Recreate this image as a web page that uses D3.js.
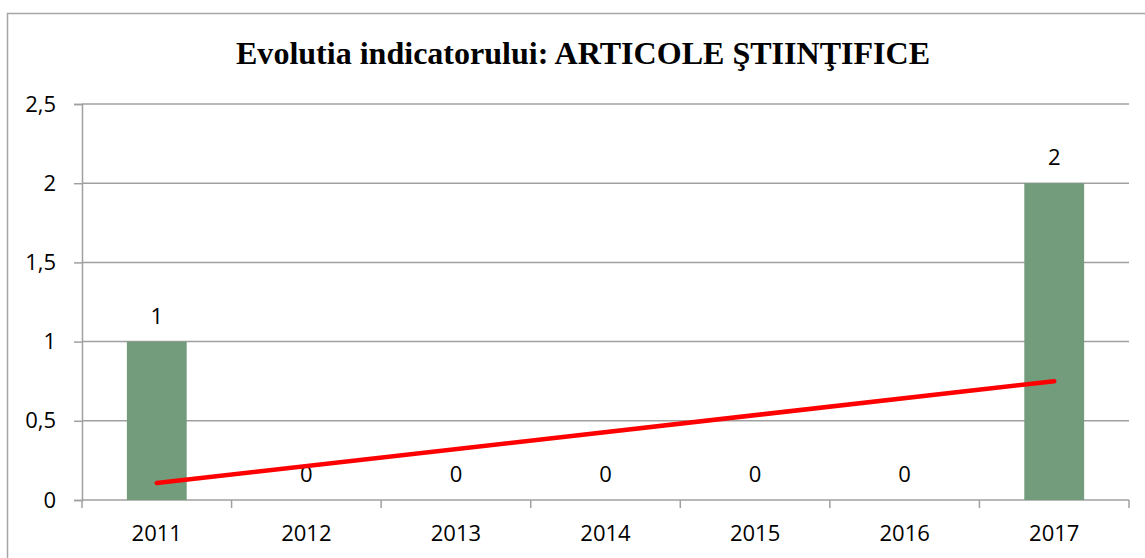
<!DOCTYPE html>
<html>
<head>
<meta charset="utf-8">
<script src="https://cdn.jsdelivr.net/npm/d3@7"></script>
<style>
  body { margin: 0; background: #fff; }
  svg { display: block; }
</style>
</head>
<body>
<div id="chart"></div>
<script>
//Chart data
const years = ["2011", "2012", "2013", "2014", "2015", "2016", "2017"];
const articles = [1, 0, 0, 0, 0, 0, 2];
//Linear trendline end points
const trendYears = ["2011", "2017"];
const trendValues = [0.107, 0.75];
const yTicks = [0, 0.5, 1, 1.5, 2, 2.5];

const title = "Evolutia indicatorului: ARTICOLE ŞTIINŢIFICE";

//Canvas size
const w = 1145;
const h = 558;

//Plot area
const margin = { left: 82, right: 16, top: 104, bottom: 58 };

const svg = d3.select("#chart")
    .append("svg")
    .attr("width", w)
    .attr("height", h);

//Outer chart border
svg.append("rect")
    .attr("x", 7.5)
    .attr("y", 13.5)
    .attr("width", w)
    .attr("height", h)
    .attr("fill", "white")
    .attr("stroke", "#a6a6a6")
    .attr("stroke-width", 1.5);

//Scales
const x = d3.scaleBand()
    .domain(years)
    .range([margin.left, w - margin.right]);

const y = d3.scaleLinear()
    .domain([0, 2.5])
    .range([h - margin.bottom, margin.top]);

const fmt = d => String(d).replace(".", ",");

//Horizontal gridlines + y axis
const yAxis = svg.append("g")
    .attr("transform", `translate(${margin.left},0)`)
    .call(d3.axisLeft(y).tickValues(yTicks).tickSize(8).tickPadding(18).tickFormat(fmt));

yAxis.select(".domain").attr("stroke", "#a0a0a0").attr("stroke-width", 1.5);
yAxis.selectAll(".tick line").attr("stroke", "#a0a0a0").attr("stroke-width", 1.5);
yAxis.selectAll(".tick text")
    .attr("font-family", "'Open Sans', sans-serif")
    .attr("font-size", 22)
    .attr("fill", "#000");

svg.append("g")
    .selectAll("line")
    .data(yTicks.filter(d => d > 0))
    .enter()
    .append("line")
    .attr("x1", margin.left)
    .attr("x2", w - margin.right)
    .attr("y1", d => y(d))
    .attr("y2", d => y(d))
    .attr("stroke", "#a0a0a0")
    .attr("stroke-width", 1.5);

//X axis with ticks at band edges
const xAxis = svg.append("g")
    .attr("transform", `translate(0,${y(0)})`);

xAxis.append("line")
    .attr("x1", margin.left)
    .attr("x2", w - margin.right)
    .attr("stroke", "#a0a0a0")
    .attr("stroke-width", 1.5);

const edges = years.map(d => x(d)).concat([x(years[years.length - 1]) + x.bandwidth()]);
xAxis.selectAll(".edge")
    .data(edges)
    .enter()
    .append("line")
    .attr("x1", d => d)
    .attr("x2", d => d)
    .attr("y1", 0)
    .attr("y2", 8)
    .attr("stroke", "#a0a0a0")
    .attr("stroke-width", 1.5);

xAxis.selectAll(".lbl")
    .data(years)
    .enter()
    .append("text")
    .attr("x", d => x(d) + x.bandwidth() / 2)
    .attr("y", 41)
    .attr("text-anchor", "middle")
    .attr("font-family", "'Open Sans', sans-serif")
    .attr("font-size", 22)
    .text(d => d);

//Bars
const barW = x.bandwidth() * 0.4;
svg.append("g")
    .selectAll("rect")
    .data(articles)
    .enter()
    .append("rect")
    .attr("x", (d, i) => x(years[i]) + (x.bandwidth() - barW) / 2)
    .attr("y", d => y(d))
    .attr("width", barW)
    .attr("height", d => y(0) - y(d))
    .attr("fill", "#739c7c");

//Data labels
svg.append("g")
    .selectAll("text")
    .data(articles)
    .enter()
    .append("text")
    .attr("x", (d, i) => x(years[i]) + x.bandwidth() / 2)
    .attr("y", d => y(d) - 18)
    .attr("text-anchor", "middle")
    .attr("font-family", "'Open Sans', sans-serif")
    .attr("font-size", 22)
    .text(d => d);

//Trendline
const line = d3.line()
    .x((d, i) => x(trendYears[i]) + x.bandwidth() / 2)
    .y(d => y(d));

svg.append("path")
    .datum(trendValues)
    .attr("d", line)
    .attr("fill", "none")
    .attr("stroke", "#ff0000")
    .attr("stroke-width", 4.5)
    .attr("stroke-linecap", "round");

//Title
svg.append("text")
    .attr("x", 583)
    .attr("y", 64)
    .attr("text-anchor", "middle")
    .attr("font-family", "'Liberation Serif', 'Times New Roman', serif")
    .attr("font-weight", "bold")
    .attr("font-size", 31)
    .attr("textLength", 694)
    .attr("lengthAdjust", "spacingAndGlyphs")
    .text(title);
</script>
</body>
</html>
